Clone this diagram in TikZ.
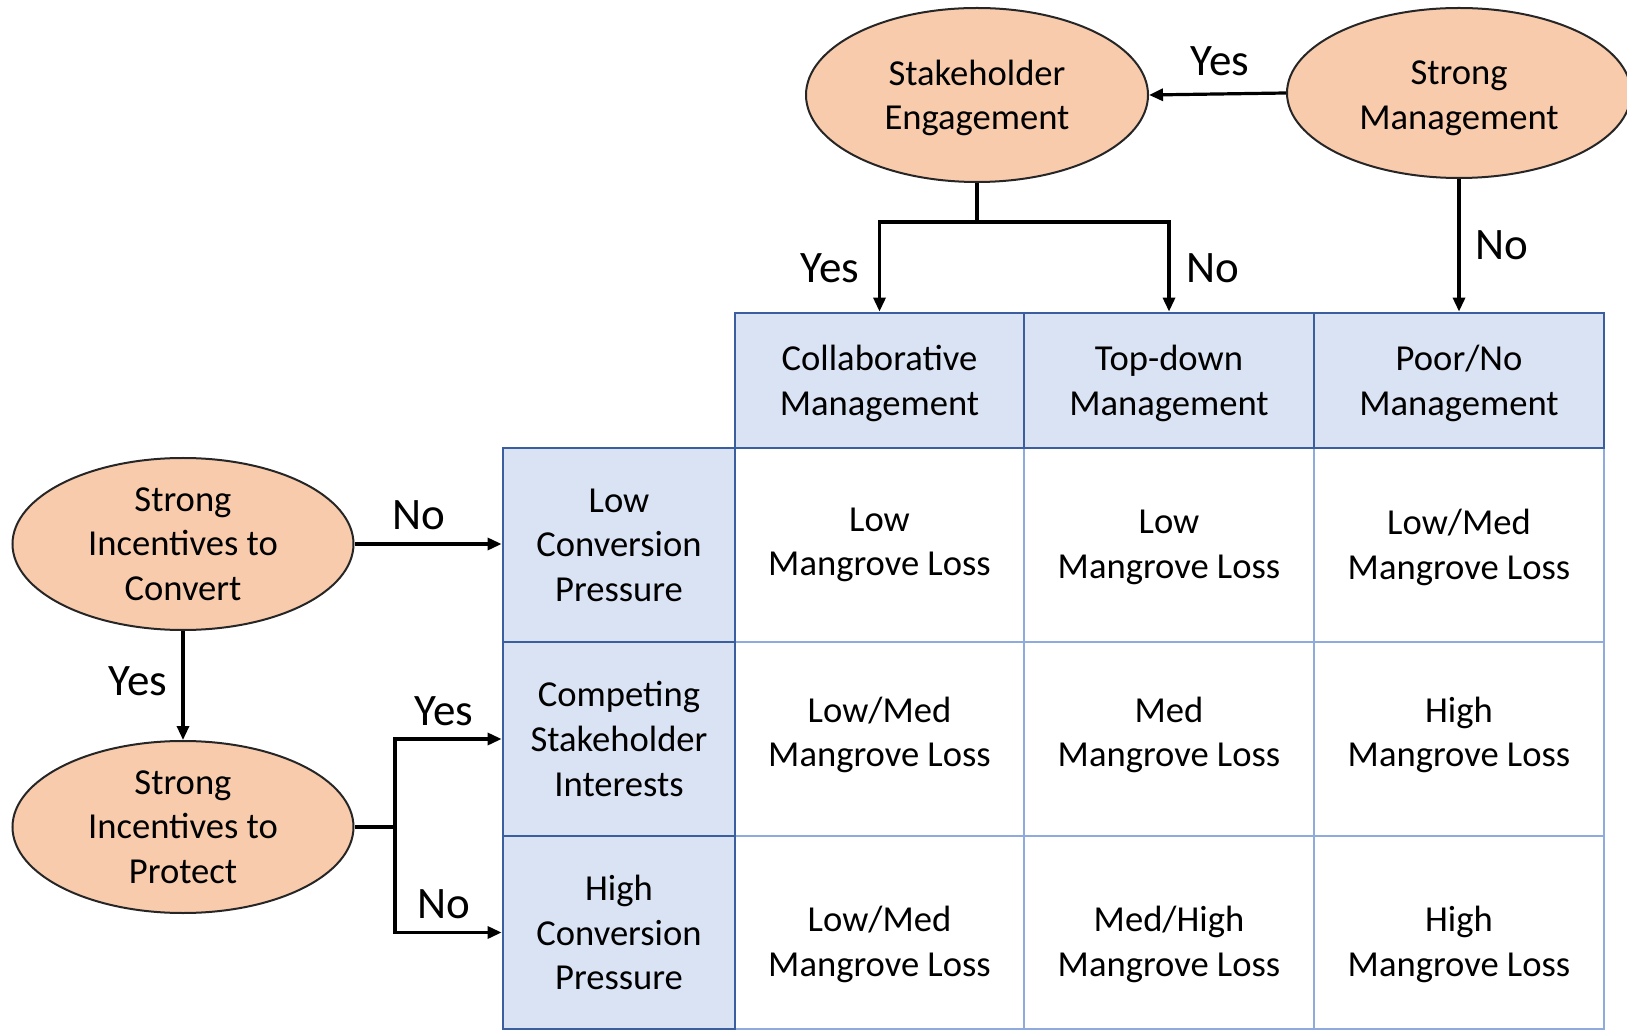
\documentclass[tikz,border=0pt]{standalone}
\usepackage{fontspec}
\setmainfont{Carlito}
\usetikzlibrary{shapes.geometric,arrows.meta}
\definecolor{peach}{HTML}{F8CBAD}
\definecolor{boxfill}{HTML}{DAE3F3}
\definecolor{boxline}{HTML}{3B5E9E}
\definecolor{gridline}{HTML}{8FAADC}
\definecolor{ellline}{HTML}{262626}
\begin{document}
\begin{tikzpicture}[x=0.5pt,y=-0.5pt,
  txt/.style={font=\fontsize{18.3}{22.3}\selectfont},
  inside/.style={txt, align=center, inner sep=0pt},
  decision/.style={ellipse, draw=ellline, line width=1pt, fill=peach, inner sep=0pt},
  headcell/.style={rectangle, draw=boxline, line width=1.4pt, fill=boxfill, inner sep=0pt},
  cell/.style={rectangle, draw=gridline, line width=0.8pt, inner sep=0pt, minimum height=97pt},
  flow/.style={line width=1.6pt, draw=black},
  arr/.style={flow, -{Triangle[length=7pt,width=6pt]}},
  ans/.style={font=\fontsize{22.5}{27}\selectfont, inner sep=0pt}
]
\useasboundingbox (0,0) rectangle (1627,1031);

% outcome grid (light inner lines)
\node[cell, minimum width=144.5pt, label={[inside]center:{Low\\Mangrove Loss}}] (c11) at (879.5,545) {};
\node[cell, minimum width=145pt, label={[inside,yshift=-1.2pt]center:{Low\\Mangrove Loss}}] (c12) at (1169,545) {};
\node[cell, minimum width=145pt, label={[inside,yshift=-1.2pt]center:{Low/Med\\Mangrove Loss}}] (c13) at (1459,545) {};
\node[cell, minimum width=144.5pt, label={[inside,yshift=2pt]center:{Low/Med\\Mangrove Loss}}] (c21) at (879.5,739) {};
\node[cell, minimum width=145pt, label={[inside,yshift=2pt]center:{Med\\Mangrove Loss}}] (c22) at (1169,739) {};
\node[cell, minimum width=145pt, label={[inside,yshift=2pt]center:{High\\Mangrove Loss}}] (c23) at (1459,739) {};
\node[cell, minimum width=144.5pt, minimum height=96.5pt, label={[inside,yshift=-6pt]center:{Low/Med\\Mangrove Loss}}] (c31) at (879.5,932.5) {};
\node[cell, minimum width=145pt, minimum height=96.5pt, label={[inside,yshift=-6pt]center:{Med/High\\Mangrove Loss}}] (c32) at (1169,932.5) {};
\node[cell, minimum width=145pt, minimum height=96.5pt, label={[inside,yshift=-6pt]center:{High\\Mangrove Loss}}] (c33) at (1459,932.5) {};

% management column headers
\node[headcell, minimum width=144.5pt, minimum height=67.5pt,
  label={[inside,yshift=-1.5pt]center:{Collaborative\\Management}}] (colA) at (879.5,380.5) {};
\node[headcell, minimum width=145pt, minimum height=67.5pt,
  label={[inside,yshift=-1.5pt]center:{Top-down\\Management}}] (colB) at (1169,380.5) {};
\node[headcell, minimum width=145pt, minimum height=67.5pt,
  label={[inside,yshift=-1.5pt]center:{Poor/No\\Management}}] (colC) at (1459,380.5) {};

% conversion pressure row headers
\node[headcell, minimum width=116pt, minimum height=97pt,
  label={[inside]center:{Low\\Conversion\\Pressure}}] (rowA) at (619,545) {};
\node[headcell, minimum width=116pt, minimum height=97pt,
  label={[inside]center:{Competing\\Stakeholder\\Interests}}] (rowB) at (619,739) {};
\node[headcell, minimum width=116pt, minimum height=96.5pt,
  label={[inside]center:{High\\Conversion\\Pressure}}] (rowC) at (619,932.5) {};

% decision ellipses
\node[decision, minimum width=171pt, minimum height=87pt,
  label={[inside,yshift=-1.5pt]center:{Stakeholder\\Engagement}}] (eSE) at (977,95) {};
\node[decision, minimum width=172pt, minimum height=85pt,
  label={[inside,yshift=-2.5pt]center:{Strong\\Management}}] (eSM) at (1459,93) {};
\node[decision, minimum width=170.5pt, minimum height=86pt,
  label={[inside]center:{Strong\\Incentives to\\Convert}}] (eConv) at (183,544) {};
\node[decision, minimum width=170.5pt, minimum height=86pt,
  label={[inside]center:{Strong\\Incentives to\\Protect}}] (eProt) at (183,827) {};

% connectors
\coordinate (jSE) at (977,222);
\coordinate (jP) at (395,827);
\draw[arr] (eSM.west) -- (eSE.east);
\draw[flow] (eSE.south) -- (jSE);
\draw[arr] (jSE) -| (colA.north);
\draw[arr] (jSE) -| (colB.north);
\draw[arr] (eSM.south) -- (colC.north);
\draw[arr] (eConv.south) -- (eProt.north);
\draw[arr] (eConv.east) -- (eConv.east -| rowA.west);
\draw[flow] (eProt.east) -- (jP);
\draw[arr] (jP) |- (rowB.west);
\draw[arr] (jP) |- (rowC.west);

% answer labels
\node[ans] (lSMyes) at (1220,61)  {Yes};
\node[ans] (lSEyes) at (830,268)  {Yes};
\node[ans] (lSEno)  at (1213,268) {No};
\node[ans] (lSMno)  at (1502,245) {No};
\node[ans] (lCno)   at (419,515)  {No};
\node[ans] (lCyes)  at (138,681)  {Yes};
\node[ans] (lPyes)  at (444,711)  {Yes};
\node[ans] (lPno)   at (444,904)  {No};
\end{tikzpicture}
\end{document}
